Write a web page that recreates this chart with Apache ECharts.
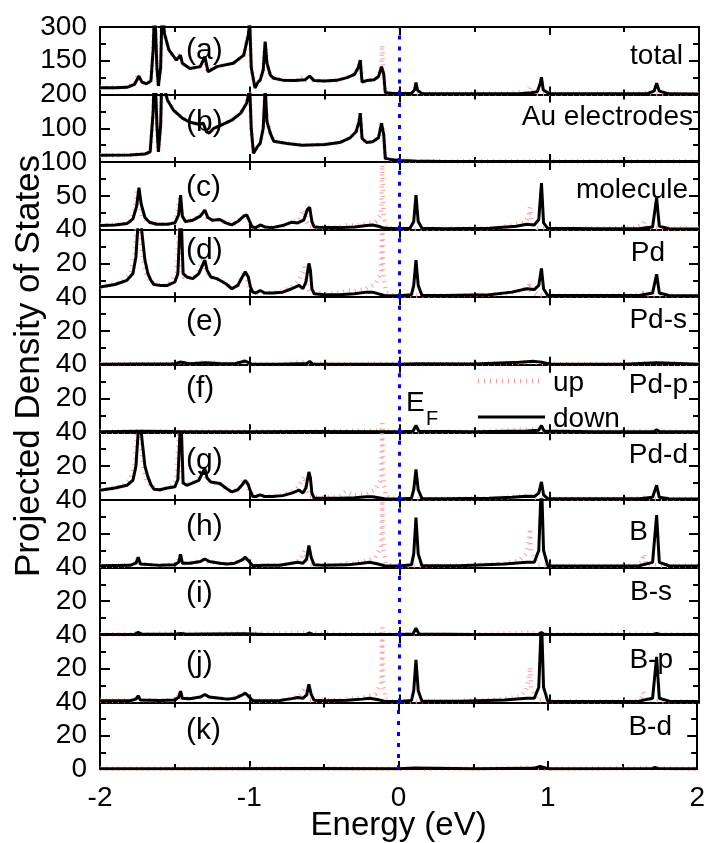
<!DOCTYPE html>
<html><head><meta charset="utf-8">
<script src="https://cdn.jsdelivr.net/npm/echarts@6/dist/echarts.min.js"></script>
<style>html,body{margin:0;padding:0;background:#fff}#c{width:708px;height:843px}</style>
</head><body><div id="c"></div>
<script>
// ---------- DATA ----------
const panelNames = ['total','Au electrodes','molecule','Pd','Pd-s','Pd-p','Pd-d','B','B-s','B-p','B-d'];
const panelLetters = ['(a)','(b)','(c)','(d)','(e)','(f)','(g)','(h)','(i)','(j)','(k)'];
const yMax = [300,200,100,40,40,40,40,40,40,40,40];
const xRange = [-2, 2];
const legendNames = ['up','down'];

// spin-down (black) [energy eV, PDOS]
const totalDown = [[-2,30],[-1.9,30],[-1.82,32],[-1.77,45],[-1.74,82],[-1.72,55],[-1.69,48],[-1.66,60],[-1.645,200],[-1.635,400],[-1.62,120],[-1.61,38],[-1.595,120],[-1.585,400],[-1.57,272],[-1.54,198],[-1.49,153],[-1.463,175],[-1.45,139],[-1.4,116],[-1.33,124],[-1.30,168],[-1.278,101],[-1.22,124],[-1.11,139],[-1.04,175],[-1.01,264],[-1.0,320],[-0.99,120],[-0.965,29],[-0.945,55],[-0.93,64],[-0.91,110],[-0.897,235],[-0.885,140],[-0.863,87],[-0.84,72],[-0.78,64],[-0.7,62],[-0.63,66],[-0.6,82],[-0.57,62],[-0.5,60],[-0.42,63],[-0.35,75],[-0.3,90],[-0.275,120],[-0.262,153],[-0.25,55],[-0.22,62],[-0.17,66],[-0.14,80],[-0.12,124],[-0.105,90],[-0.095,8],[-0.05,6],[0,5],[0.08,5],[0.1,20],[0.11,53],[0.12,20],[0.15,4],[0.3,3],[0.6,3],[0.8,4],[0.88,8],[0.92,12],[0.94,50],[0.948,77],[0.96,20],[1.0,4],[1.3,3],[1.65,3],[1.7,15],[1.717,50],[1.735,15],[1.8,3],[2,2]];
const auDown = [[-2,20],[-1.8,21],[-1.7,24],[-1.665,30],[-1.645,150],[-1.635,300],[-1.62,110],[-1.61,30],[-1.595,110],[-1.585,300],[-1.57,220],[-1.55,184],[-1.51,154],[-1.45,130],[-1.4,118],[-1.34,112],[-1.31,115],[-1.29,90],[-1.27,86],[-1.24,100],[-1.18,112],[-1.12,124],[-1.06,145],[-1.02,175],[-1.0,220],[-0.99,100],[-0.975,26],[-0.95,45],[-0.93,56],[-0.91,100],[-0.897,220],[-0.885,120],[-0.863,86],[-0.84,62],[-0.75,55],[-0.65,50],[-0.5,52],[-0.4,58],[-0.33,72],[-0.29,90],[-0.27,120],[-0.262,145],[-0.25,70],[-0.22,58],[-0.18,60],[-0.14,72],[-0.12,115],[-0.105,80],[-0.095,11],[-0.06,8],[0,5],[0.1,3],[0.3,2],[1,1.5],[2,1.5]];
const moleculeDown = [[-2,6],[-1.9,7],[-1.82,9],[-1.78,16],[-1.755,35],[-1.74,62],[-1.725,38],[-1.7,18],[-1.67,11],[-1.62,8],[-1.55,8],[-1.5,10],[-1.475,22],[-1.462,51],[-1.45,20],[-1.43,12],[-1.38,14],[-1.33,20],[-1.30,29],[-1.28,18],[-1.25,14],[-1.2,15],[-1.16,10],[-1.12,7],[-1.08,12],[-1.04,20],[-1.02,22],[-1.0,12],[-0.985,4],[-0.96,3],[-0.93,7],[-0.9,4],[-0.85,3],[-0.78,6],[-0.72,11],[-0.68,10],[-0.64,14],[-0.615,30],[-0.6,33],[-0.585,12],[-0.57,4],[-0.5,3],[-0.4,3],[-0.3,4],[-0.22,6],[-0.18,7],[-0.14,5],[-0.1,2],[0,1.5],[0.07,2],[0.095,12],[0.11,51],[0.125,12],[0.15,2],[0.3,1.5],[0.6,2],[0.78,5],[0.85,8],[0.9,7],[0.93,15],[0.948,69],[0.962,10],[0.99,2],[1.3,1.5],[1.6,1.5],[1.69,4],[1.717,47],[1.735,5],[1.8,1.5],[2,1]];
const pdDown = [[-2,6],[-1.9,7.5],[-1.82,10],[-1.78,14],[-1.76,24],[-1.745,45],[-1.735,55],[-1.72,38],[-1.7,22],[-1.68,14],[-1.66,10],[-1.64,7.5],[-1.6,7],[-1.55,7],[-1.5,9],[-1.48,14],[-1.465,45],[-1.455,40],[-1.445,14],[-1.42,12],[-1.38,11],[-1.34,14],[-1.31,20],[-1.30,22],[-1.285,16],[-1.26,12],[-1.22,11],[-1.2,10],[-1.16,8],[-1.12,5],[-1.08,7],[-1.05,12],[-1.03,15],[-1.01,12],[-0.995,6],[-0.98,3],[-0.96,2.5],[-0.93,4],[-0.9,2.5],[-0.85,2.5],[-0.78,3],[-0.72,5],[-0.67,7],[-0.645,5],[-0.625,9],[-0.605,20],[-0.595,16],[-0.585,5],[-0.57,2],[-0.5,1.5],[-0.4,1.5],[-0.3,2],[-0.22,3],[-0.18,3],[-0.14,2],[-0.1,1],[0,0.8],[0.08,1.5],[0.095,7],[0.11,22],[0.125,7],[0.15,1],[0.3,1],[0.6,1.5],[0.75,3],[0.85,5],[0.9,4.5],[0.93,7],[0.948,17],[0.962,5],[0.99,1],[1.3,1],[1.6,1],[1.69,2.5],[1.717,13.6],[1.735,2.5],[1.8,1],[2,0.8]];
const pdsDown = [[-2,0.3],[-1.75,0.5],[-1.5,0.5],[-1.465,1.6],[-1.4,0.6],[-1.30,1.2],[-1.2,0.8],[-1.1,0.6],[-1.03,2.2],[-0.99,0.5],[-0.8,0.3],[-0.62,0.8],[-0.6,2],[-0.58,0.4],[-0.3,0.3],[0,0.3],[0.11,0.6],[0.5,0.5],[0.8,1.5],[0.9,2],[0.95,1.5],[1.0,0.5],[1.5,0.3],[1.717,1.2],[2,0.3]];
const pdpDown = [[-2,0.3],[-1.74,0.6],[-1.5,0.4],[-1.0,0.3],[-0.6,0.5],[0,0.3],[0.09,0.6],[0.11,4],[0.13,0.6],[0.5,0.3],[0.85,0.8],[0.93,1.2],[0.948,4],[0.965,0.8],[1.3,0.3],[1.7,0.5],[1.717,1.5],[1.735,0.5],[2,0.3]];
const pddDown = [[-2,5.7],[-1.9,7],[-1.82,8.6],[-1.78,11.6],[-1.76,20],[-1.745,40],[-1.735,52],[-1.72,36],[-1.7,20],[-1.68,13.6],[-1.66,9],[-1.64,6.3],[-1.6,6],[-1.55,7],[-1.5,7.7],[-1.48,12],[-1.465,42],[-1.455,38],[-1.445,10],[-1.42,8.6],[-1.38,10],[-1.34,11.6],[-1.31,17],[-1.30,18.5],[-1.285,13],[-1.26,10.6],[-1.22,10],[-1.2,9.7],[-1.16,7],[-1.12,4.7],[-1.08,6],[-1.05,9],[-1.03,11.6],[-1.01,9],[-0.995,5],[-0.98,2],[-0.96,2],[-0.93,3],[-0.9,2],[-0.85,2],[-0.78,2.5],[-0.72,4],[-0.67,5.7],[-0.645,4],[-0.625,7],[-0.605,16.5],[-0.595,13],[-0.585,4],[-0.57,1],[-0.5,1],[-0.4,1],[-0.3,1.3],[-0.22,1.8],[-0.18,1.8],[-0.14,1.2],[-0.1,0.6],[0,0.5],[0.08,1],[0.095,6],[0.11,18],[0.125,6],[0.15,0.7],[0.3,0.6],[0.6,1],[0.75,1.6],[0.85,2.2],[0.9,2],[0.93,4],[0.948,10.6],[0.962,3],[0.99,0.7],[1.3,0.6],[1.6,0.6],[1.69,1.5],[1.717,8.6],[1.735,1.5],[1.8,0.6],[2,0.5]];
const bDown = [[-2,1],[-1.8,1.2],[-1.76,2.5],[-1.745,6],[-1.73,2],[-1.6,1.2],[-1.5,1.5],[-1.475,3],[-1.462,7.7],[-1.45,2.5],[-1.4,2.5],[-1.33,3.5],[-1.30,5],[-1.27,3.5],[-1.2,2.5],[-1.15,2],[-1.1,2.5],[-1.05,4.5],[-1.03,6],[-1.0,3],[-0.98,1],[-0.9,1.2],[-0.8,1.3],[-0.72,2.5],[-0.68,3],[-0.645,2.5],[-0.62,5],[-0.605,13],[-0.59,6],[-0.57,1.5],[-0.5,1.2],[-0.35,1.5],[-0.25,2.5],[-0.2,3],[-0.15,2.2],[-0.1,1],[0,0.8],[0.08,1.5],[0.095,8],[0.11,29.5],[0.125,8],[0.15,1],[0.4,1],[0.7,2],[0.85,3],[0.9,3],[0.93,10],[0.948,52],[0.962,10],[0.99,1],[1.3,0.8],[1.6,1],[1.69,3],[1.717,31],[1.735,3],[1.8,1],[2,0.8]];
const bsDown = [[-2,0.3],[-1.77,0.4],[-1.745,1.5],[-1.72,0.4],[-1.5,0.4],[-1.462,0.8],[-1.42,0.4],[-1.3,0.6],[-1.03,0.7],[-0.9,0.3],[-0.62,0.4],[-0.605,1.2],[-0.58,0.4],[-0.3,0.3],[0,0.3],[0.09,0.6],[0.11,4],[0.13,0.6],[0.5,0.3],[0.93,0.4],[0.948,1.5],[0.965,0.4],[1.7,0.3],[1.717,1],[1.735,0.3],[2,0.3]];
const bpDown = [[-2,1],[-1.8,1],[-1.76,2],[-1.745,4],[-1.73,1.5],[-1.6,1.2],[-1.5,1.5],[-1.475,3],[-1.462,6.7],[-1.45,2.5],[-1.4,2.2],[-1.33,3.2],[-1.30,4.7],[-1.27,3.2],[-1.2,2.5],[-1.15,2],[-1.1,2.5],[-1.05,4.5],[-1.03,5.5],[-1.0,3],[-0.98,1],[-0.9,1],[-0.8,1.2],[-0.72,2.3],[-0.68,3],[-0.645,2.5],[-0.62,4.5],[-0.605,10.7],[-0.59,5],[-0.57,1.3],[-0.5,1],[-0.35,1.3],[-0.25,2],[-0.2,2.5],[-0.15,1.8],[-0.1,0.8],[0,0.6],[0.08,1.2],[0.095,7],[0.11,25.3],[0.125,7],[0.15,0.8],[0.4,0.8],[0.7,1.5],[0.85,2.5],[0.9,2.5],[0.93,9],[0.948,50],[0.962,9],[0.99,0.8],[1.3,0.6],[1.6,0.8],[1.69,2.5],[1.717,27],[1.735,2.5],[1.8,0.8],[2,0.6]];
const bdDown = [[-2,0.1],[-1.5,0.2],[-0.6,0.3],[0,0.1],[0.11,0.6],[0.5,0.1],[0.9,0.4],[0.948,1.5],[1.0,0.2],[1.7,0.3],[1.717,1],[1.735,0.3],[2,0.1]];

// spin-up (red dotted) [energy eV, PDOS]
const totalUp = [[-2,30],[-1.82,32],[-1.77,48],[-1.75,84],[-1.73,52],[-1.69,48],[-1.66,60],[-1.645,200],[-1.635,400],[-1.62,120],[-1.61,38],[-1.595,120],[-1.585,400],[-1.57,272],[-1.54,198],[-1.49,156],[-1.468,180],[-1.455,140],[-1.4,116],[-1.33,124],[-1.305,166],[-1.285,103],[-1.22,124],[-1.11,139],[-1.04,175],[-1.01,264],[-1.0,320],[-0.99,120],[-0.965,29],[-0.945,55],[-0.93,64],[-0.91,110],[-0.897,235],[-0.885,140],[-0.863,87],[-0.84,72],[-0.78,64],[-0.68,64],[-0.64,80],[-0.62,64],[-0.5,60],[-0.42,63],[-0.36,75],[-0.3,90],[-0.275,120],[-0.262,153],[-0.25,55],[-0.2,62],[-0.15,75],[-0.124,120],[-0.115,220],[-0.107,90],[-0.095,8],[-0.05,6],[0,5],[0.3,3],[0.7,5],[0.84,12],[0.864,20],[0.872,32],[0.88,14],[0.92,4],[1.3,3],[1.6,5],[1.627,14],[1.635,20],[1.643,8],[1.7,3],[2,2]];
const auUp = auDown; // electrodes are non-magnetic
const moleculeUp = [[-2,6],[-1.85,8],[-1.8,12],[-1.77,28],[-1.75,60],[-1.735,40],[-1.72,20],[-1.69,12],[-1.62,8],[-1.55,8],[-1.51,11],[-1.485,24],[-1.468,50],[-1.455,22],[-1.44,12],[-1.38,14],[-1.34,20],[-1.305,28],[-1.285,18],[-1.25,14],[-1.2,15],[-1.16,10],[-1.12,7],[-1.08,12],[-1.05,20],[-1.03,22],[-1.01,12],[-0.99,4],[-0.96,3],[-0.9,4],[-0.8,4],[-0.72,10],[-0.67,15],[-0.65,24],[-0.635,30],[-0.62,12],[-0.6,4],[-0.5,3],[-0.4,4],[-0.35,7],[-0.3,6],[-0.22,9],[-0.16,12],[-0.124,22],[-0.115,96],[-0.107,20],[-0.09,4],[-0.05,2],[0,1.5],[0.3,1.5],[0.6,2],[0.75,6],[0.84,11],[0.864,20],[0.872,33],[0.88,14],[0.92,2],[1.3,1.5],[1.58,3],[1.625,8],[1.635,12],[1.645,3],[1.75,1.5],[2,1]];
const pdUp = [[-2,6],[-1.85,9],[-1.8,14],[-1.77,24],[-1.755,45],[-1.742,55],[-1.728,36],[-1.71,20],[-1.69,13],[-1.66,9],[-1.6,7],[-1.55,7],[-1.52,10],[-1.49,15],[-1.48,30],[-1.47,45],[-1.46,20],[-1.44,12],[-1.38,11],[-1.34,16],[-1.31,23],[-1.29,15],[-1.26,12],[-1.2,10],[-1.16,8],[-1.12,5],[-1.08,7],[-1.05,13],[-1.035,15],[-1.015,10],[-0.995,4],[-0.96,2.5],[-0.9,2.5],[-0.8,3],[-0.72,6],[-0.67,10],[-0.65,15],[-0.635,18],[-0.62,8],[-0.6,3],[-0.5,2],[-0.4,2.5],[-0.35,4],[-0.3,3.5],[-0.22,5],[-0.16,8],[-0.124,14],[-0.115,55],[-0.107,12],[-0.09,3],[-0.05,1.2],[0,0.8],[0.3,1],[0.6,1.5],[0.75,2.5],[0.84,5],[0.864,7],[0.872,9],[0.88,4],[0.92,1],[1.3,1],[1.58,1.2],[1.625,2.5],[1.635,3],[1.645,1.2],[1.75,1],[2,0.8]];
const pdsUp = [[-2,0.3],[-1.75,0.5],[-1.5,0.5],[-1.47,1.4],[-1.4,0.6],[-1.31,1.2],[-1.2,0.8],[-1.1,0.6],[-1.035,2],[-1.0,0.5],[-0.8,0.3],[-0.635,1.8],[-0.6,0.4],[-0.3,0.3],[-0.115,0.8],[0,0.3],[0.5,0.5],[0.8,1.2],[0.872,1.6],[0.95,0.8],[1.0,0.5],[1.5,0.3],[1.635,0.8],[2,0.3]];
const pdpUp = [[-2,0.3],[-1.75,0.6],[-1.5,0.4],[-0.64,0.5],[-0.124,1],[-0.115,5.3],[-0.107,1],[0,0.3],[0.5,0.3],[0.872,2],[1.0,0.3],[1.635,0.8],[2,0.3]];
const pddUp = [[-2,5.7],[-1.85,8],[-1.8,11.6],[-1.77,20],[-1.755,38],[-1.742,50],[-1.728,34],[-1.71,18],[-1.69,12],[-1.66,8],[-1.6,6],[-1.55,7],[-1.52,8],[-1.49,12],[-1.48,28],[-1.47,42],[-1.46,15],[-1.44,9],[-1.38,10],[-1.34,13],[-1.31,18],[-1.29,12],[-1.26,10],[-1.2,9.7],[-1.16,7],[-1.12,4.7],[-1.08,6],[-1.05,10],[-1.035,11.6],[-1.015,8],[-0.995,4],[-0.96,2],[-0.9,2],[-0.8,2.5],[-0.72,4.5],[-0.67,8],[-0.65,12],[-0.635,14],[-0.62,6],[-0.6,2],[-0.5,1.2],[-0.4,2],[-0.36,5],[-0.3,2.5],[-0.22,3.5],[-0.16,6],[-0.124,12],[-0.115,50],[-0.107,10],[-0.09,2],[-0.05,0.8],[0,0.5],[0.3,0.6],[0.6,1],[0.75,1.5],[0.84,2.5],[0.864,3.5],[0.872,4.5],[0.88,2],[0.92,0.7],[1.3,0.6],[1.58,0.8],[1.625,1.6],[1.635,2],[1.645,0.8],[1.75,0.6],[2,0.5]];
const bUp = [[-2,1],[-1.8,1.2],[-1.765,2.5],[-1.75,6],[-1.735,2],[-1.6,1.2],[-1.5,1.5],[-1.48,3],[-1.468,7.5],[-1.455,2.5],[-1.4,2.5],[-1.34,3.5],[-1.305,5],[-1.28,3.5],[-1.2,2.5],[-1.15,2],[-1.1,2.5],[-1.05,4.5],[-1.035,6],[-1.0,2.5],[-0.98,1],[-0.9,1.2],[-0.8,1.3],[-0.72,2.5],[-0.67,4],[-0.65,7],[-0.635,10],[-0.62,4],[-0.6,1.5],[-0.5,1.2],[-0.4,1.6],[-0.35,2.5],[-0.3,2.5],[-0.22,4],[-0.16,6],[-0.124,12],[-0.115,45],[-0.107,10],[-0.09,2],[-0.05,1],[0,0.8],[0.4,1],[0.7,2.5],[0.8,4],[0.845,8],[0.864,15],[0.872,23],[0.88,10],[0.92,1.5],[1.0,1],[1.3,0.8],[1.58,1.2],[1.615,3],[1.627,6],[1.635,8],[1.645,2],[1.75,1],[2,0.8]];
const bsUp = [[-2,0.3],[-1.77,0.5],[-1.75,1.5],[-1.73,0.5],[-1.468,0.8],[-1.305,0.6],[-1.035,0.7],[-0.635,1.2],[-0.3,0.3],[-0.124,1],[-0.115,4.5],[-0.107,1],[0,0.3],[0.5,0.3],[0.872,1.5],[1.0,0.3],[1.635,0.8],[2,0.3]];
const bpUp = [[-2,1],[-1.8,1],[-1.765,2],[-1.75,4],[-1.735,1.5],[-1.6,1.2],[-1.5,1.5],[-1.48,3],[-1.468,6.5],[-1.455,2.5],[-1.4,2.2],[-1.34,3.2],[-1.305,4.7],[-1.28,3.2],[-1.2,2.5],[-1.15,2],[-1.1,2.5],[-1.05,4.5],[-1.035,5.5],[-1.0,2.5],[-0.98,1],[-0.9,1],[-0.8,1.2],[-0.72,2.3],[-0.67,3.5],[-0.65,6],[-0.635,9],[-0.62,3.5],[-0.6,1.3],[-0.5,1],[-0.4,1.4],[-0.35,2.2],[-0.3,2.2],[-0.22,3.5],[-0.16,5],[-0.124,11],[-0.115,42],[-0.107,9],[-0.09,2],[-0.05,0.8],[0,0.6],[0.4,0.8],[0.7,2.2],[0.8,3.5],[0.845,7],[0.864,14],[0.872,21],[0.88,9],[0.92,1.2],[1.0,0.8],[1.3,0.6],[1.58,1],[1.615,3],[1.627,6],[1.635,7],[1.645,2],[1.75,0.8],[2,0.6]];
const bdUp = [[-2,0.1],[-1.5,0.2],[-0.6,0.3],[0,0.1],[0.5,0.1],[0.872,0.6],[1.0,0.1],[1.635,0.4],[2,0.1]];

const downSets = [totalDown,auDown,moleculeDown,pdDown,pdsDown,pdpDown,pddDown,bDown,bsDown,bpDown,bdDown];
const upSets = [totalUp,auUp,moleculeUp,pdUp,pdsUp,pdpUp,pddUp,bUp,bsUp,bpUp,bdUp];

// ---------- LAYOUT / STYLE ----------
const FONT = 'Liberation Sans, Arial, Helvetica, sans-serif';
const GRID_TOP = 27, GRID_H = 67.55, GRID_LEFT = 100, GRID_RIGHT = 9;
const nameRightX = [683,693,688,665,687,688,688,648,672,673,672];
const nameOffY = [29.6,23,28.6,23.7,22.7,20.5,23,32,24.6,25.3,24.6];
const letterOffY = [23.8,27.8,25.4,21,24.6,24.4,28,27,26.2,28.7,28.7];
const UP_COLOR = '#ff9a9a';
const UP_STYLE = {color:UP_COLOR, width:4.5, type:[1,5]};
const DOWN_STYLE = {color:'#000', width:3};
const n = panelNames.length;

const grids=[], xAxes=[], yAxes=[], series=[], graphics=[];
const axisLineStyle = {color:'#000', width:2};
for (let i=0;i<n;i++){
  const top = GRID_TOP + i*GRID_H;
  grids.push({left:GRID_LEFT, right:GRID_RIGHT, top:top, height:GRID_H});
  const last = i===n-1;
  const xCommon = {gridIndex:i, type:'value', min:xRange[0], max:xRange[1], interval:1,
    axisLine:{show:true, onZero:false, lineStyle:axisLineStyle},
    axisTick:{show:true, inside:true, length:8, lineStyle:{color:'#000', width:2}},
    minorTick:{show:true, splitNumber:2, length:5, lineStyle:{color:'#000', width:2}},
    splitLine:{show:false}, minorSplitLine:{show:false}};
  xAxes.push(Object.assign({}, xCommon, {position:'bottom',
    axisLabel:{show:last, fontSize:28, fontFamily:FONT, color:'#000', margin:15},
    name: last ? 'Energy (eV)' : '', nameLocation:'middle', nameGap:40, nameMoveOverlap:false,
    nameTextStyle:{fontSize:33, fontFamily:FONT, color:'#000'}}));
  xAxes.push(Object.assign({}, xCommon, {position:'top', axisLabel:{show:false}}));
  const yCommon = {gridIndex:i, type:'value', min:0, max:yMax[i], interval:yMax[i]/2,
    axisLine:{show:true, onZero:false, lineStyle:axisLineStyle},
    axisTick:{show:true, inside:true, length:10, lineStyle:{color:'#000', width:2}},
    minorTick:{show:true, splitNumber:2, length:6, lineStyle:{color:'#000', width:2}},
    splitLine:{show:false}, minorSplitLine:{show:false}};
  yAxes.push(Object.assign({}, yCommon, {position:'left',
    axisLabel:{show:true, showMinLabel:last, showMaxLabel:true, fontSize:28, fontFamily:FONT, color:'#000', margin:13}}));
  yAxes.push(Object.assign({}, yCommon, {position:'right', axisLabel:{show:false}}));

  series.push({type:'line', name:legendNames[0], xAxisIndex:2*i, yAxisIndex:2*i, data:upSets[i],
    symbol:'none', clip:true, lineStyle:UP_STYLE, itemStyle:{color:UP_COLOR}, z:2});
  series.push({type:'line', name:legendNames[1], xAxisIndex:2*i, yAxisIndex:2*i, data:downSets[i],
    symbol:'none', clip:true, lineStyle:DOWN_STYLE, itemStyle:{color:'#000'}, z:3,
    markLine:{silent:true, symbol:['none','none'], label:{show:false}, animation:false,
      lineStyle:{color:'#0000ff', width:3, type:[4,7]}, data:[{xAxis:0}]}});

  graphics.push({type:'text', x:186, y:top+letterOffY[i], z:10,
    style:{text:panelLetters[i], fontSize:30, fontFamily:FONT, fill:'#000', align:'left', verticalAlign:'middle'}});
  graphics.push({type:'text', x:nameRightX[i], y:top+nameOffY[i], z:10,
    style:{text:panelNames[i], fontSize:28, fontFamily:FONT, fill:'#000', align:'right', verticalAlign:'middle'}});
}
graphics.push({type:'text', x:29, y:366, rotation:Math.PI/2, z:10,
  style:{text:'Projected Density of States', fontSize:35, fontFamily:FONT, fill:'#000', align:'center', verticalAlign:'middle'}});
graphics.push({type:'text', x:406, y:403, z:10,
  style:{text:'E', fontSize:28, fontFamily:FONT, fill:'#000', align:'left', verticalAlign:'middle'}});
graphics.push({type:'text', x:426, y:419, z:10,
  style:{text:'F', fontSize:20, fontFamily:FONT, fill:'#000', align:'left', verticalAlign:'middle'}});
// legend samples
graphics.push({type:'line', z:10, shape:{x1:478,y1:381,x2:541,y2:381},
  style:{stroke:UP_COLOR, lineWidth:4.5, lineDash:[1,5]}});
graphics.push({type:'text', x:553, y:383, z:10,
  style:{text:legendNames[0], fontSize:28, fontFamily:FONT, fill:'#000', align:'left', verticalAlign:'middle'}});
graphics.push({type:'line', z:10, shape:{x1:478,y1:417,x2:545,y2:417},
  style:{stroke:'#000', lineWidth:3}});
graphics.push({type:'text', x:553, y:419, z:10,
  style:{text:legendNames[1], fontSize:28, fontFamily:FONT, fill:'#000', align:'left', verticalAlign:'middle'}});

const chart = echarts.init(document.getElementById('c'), null, {renderer:'canvas'});
chart.setOption({
  backgroundColor:'#fff',
  animation:false,
  grid:grids, xAxis:xAxes, yAxis:yAxes, series:series, graphic:graphics
});
</script></body></html>
